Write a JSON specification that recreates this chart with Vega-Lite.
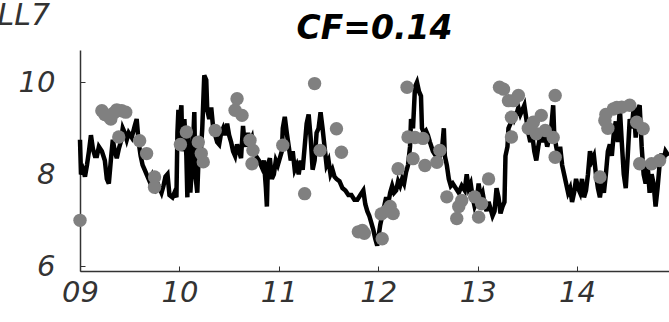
{
  "$schema": "https://vega.github.io/schema/vega-lite/v6.json",
  "autosize": "none",
  "width": 589,
  "height": 221,
  "padding": {"left": 80, "top": 50, "right": 0, "bottom": 51},
  "background": "white",
  "config": {"view": {"stroke": null}},
  "title": {"text": "CF=0.14", "font": "DejaVu Sans", "fontSize": 33, "fontWeight": "bold", "fontStyle": "italic", "color": "black", "anchor": "middle", "offset": 0, "dy": 46},
  "datasets": {
    "line": [
      {"t": 9.00, "v": 8.75}, {"t": 9.01, "v": 8.0}, {"t": 9.03, "v": 8.1}, {"t": 9.05, "v": 7.95}, {"t": 9.07, "v": 8.2}, {"t": 9.09, "v": 8.5}, {"t": 9.11, "v": 8.85}, {"t": 9.13, "v": 8.55}, {"t": 9.15, "v": 8.4}, {"t": 9.17, "v": 8.4}, {"t": 9.19, "v": 8.6}, {"t": 9.22, "v": 8.5}, {"t": 9.25, "v": 8.3}, {"t": 9.27, "v": 7.9}, {"t": 9.29, "v": 7.8}, {"t": 9.31, "v": 8.3}, {"t": 9.33, "v": 8.75}, {"t": 9.35, "v": 8.5}, {"t": 9.37, "v": 8.35}, {"t": 9.39, "v": 8.55}, {"t": 9.41, "v": 8.7}, {"t": 9.43, "v": 9.0}, {"t": 9.45, "v": 8.9}, {"t": 9.47, "v": 8.75}, {"t": 9.49, "v": 8.9}, {"t": 9.52, "v": 8.8}, {"t": 9.55, "v": 9.05}, {"t": 9.57, "v": 9.2}, {"t": 9.59, "v": 8.7}, {"t": 9.61, "v": 8.4}, {"t": 9.63, "v": 8.2}, {"t": 9.65, "v": 8.1}, {"t": 9.67, "v": 8.0}, {"t": 9.70, "v": 7.85}, {"t": 9.72, "v": 7.95}, {"t": 9.74, "v": 7.7}, {"t": 9.76, "v": 7.65}, {"t": 9.79, "v": 7.75}, {"t": 9.82, "v": 7.6}, {"t": 9.84, "v": 7.75}, {"t": 9.86, "v": 7.95}, {"t": 9.88, "v": 8.0}, {"t": 9.90, "v": 7.55}, {"t": 9.93, "v": 7.5}, {"t": 9.95, "v": 7.6}, {"t": 9.97, "v": 7.5}, {"t": 9.98, "v": 8.9}, {"t": 9.99, "v": 9.4},
      {"t": 10.00, "v": 8.6}, {"t": 10.01, "v": 9.3}, {"t": 10.02, "v": 9.5}, {"t": 10.03, "v": 8.5}, {"t": 10.05, "v": 9.2}, {"t": 10.07, "v": 8.4}, {"t": 10.08, "v": 7.5}, {"t": 10.09, "v": 8.9}, {"t": 10.11, "v": 7.6}, {"t": 10.13, "v": 8.3}, {"t": 10.15, "v": 9.35}, {"t": 10.16, "v": 8.0}, {"t": 10.18, "v": 7.6}, {"t": 10.20, "v": 8.8}, {"t": 10.21, "v": 8.3}, {"t": 10.23, "v": 9.0}, {"t": 10.25, "v": 10.15}, {"t": 10.27, "v": 10.05}, {"t": 10.28, "v": 9.4}, {"t": 10.30, "v": 9.2}, {"t": 10.32, "v": 9.45}, {"t": 10.34, "v": 9.0}, {"t": 10.36, "v": 8.85}, {"t": 10.38, "v": 8.7}, {"t": 10.40, "v": 8.65}, {"t": 10.42, "v": 8.9}, {"t": 10.44, "v": 9.0}, {"t": 10.46, "v": 8.85}, {"t": 10.48, "v": 9.1}, {"t": 10.50, "v": 8.85}, {"t": 10.52, "v": 8.7}, {"t": 10.54, "v": 8.5}, {"t": 10.56, "v": 8.4}, {"t": 10.58, "v": 8.65}, {"t": 10.60, "v": 8.5}, {"t": 10.62, "v": 8.35}, {"t": 10.64, "v": 9.05}, {"t": 10.65, "v": 8.8}, {"t": 10.67, "v": 8.6}, {"t": 10.69, "v": 8.9}, {"t": 10.71, "v": 8.7}, {"t": 10.73, "v": 8.8}, {"t": 10.75, "v": 8.5}, {"t": 10.77, "v": 8.4}, {"t": 10.80, "v": 8.3}, {"t": 10.83, "v": 8.15}, {"t": 10.85, "v": 8.3}, {"t": 10.87, "v": 7.7}, {"t": 10.88, "v": 7.3}, {"t": 10.89, "v": 8.2}, {"t": 10.91, "v": 8.35}, {"t": 10.93, "v": 7.9}, {"t": 10.95, "v": 8.0}, {"t": 10.97, "v": 8.3}, {"t": 10.99, "v": 8.2},
      {"t": 11.01, "v": 8.35}, {"t": 11.03, "v": 8.5}, {"t": 11.04, "v": 9.0}, {"t": 11.06, "v": 9.25}, {"t": 11.08, "v": 8.9}, {"t": 11.10, "v": 8.6}, {"t": 11.12, "v": 8.3}, {"t": 11.14, "v": 8.5}, {"t": 11.16, "v": 8.1}, {"t": 11.18, "v": 8.2}, {"t": 11.20, "v": 8.0}, {"t": 11.22, "v": 8.3}, {"t": 11.24, "v": 8.1}, {"t": 11.26, "v": 8.6}, {"t": 11.28, "v": 9.1}, {"t": 11.30, "v": 9.3}, {"t": 11.32, "v": 8.8}, {"t": 11.34, "v": 8.1}, {"t": 11.36, "v": 8.3}, {"t": 11.38, "v": 8.9}, {"t": 11.40, "v": 9.0}, {"t": 11.42, "v": 9.35}, {"t": 11.44, "v": 9.0}, {"t": 11.46, "v": 8.6}, {"t": 11.48, "v": 8.2}, {"t": 11.50, "v": 8.3}, {"t": 11.52, "v": 8.0}, {"t": 11.54, "v": 8.1}, {"t": 11.56, "v": 7.95}, {"t": 11.58, "v": 7.9}, {"t": 11.61, "v": 7.85}, {"t": 11.64, "v": 7.7}, {"t": 11.67, "v": 7.65}, {"t": 11.70, "v": 7.55}, {"t": 11.73, "v": 7.55}, {"t": 11.76, "v": 7.45}, {"t": 11.79, "v": 7.45}, {"t": 11.82, "v": 7.55}, {"t": 11.85, "v": 7.65}, {"t": 11.87, "v": 7.35}, {"t": 11.89, "v": 7.2}, {"t": 11.91, "v": 7.1}, {"t": 11.93, "v": 6.95}, {"t": 11.95, "v": 6.8}, {"t": 11.97, "v": 6.6}, {"t": 11.99, "v": 6.45},
      {"t": 12.00, "v": 6.6}, {"t": 12.02, "v": 6.9}, {"t": 12.04, "v": 7.1}, {"t": 12.06, "v": 7.3}, {"t": 12.08, "v": 7.5}, {"t": 12.10, "v": 7.35}, {"t": 12.12, "v": 7.6}, {"t": 12.14, "v": 7.75}, {"t": 12.16, "v": 7.6}, {"t": 12.18, "v": 7.65}, {"t": 12.20, "v": 7.85}, {"t": 12.22, "v": 7.75}, {"t": 12.24, "v": 7.9}, {"t": 12.26, "v": 7.8}, {"t": 12.28, "v": 8.05}, {"t": 12.30, "v": 8.2}, {"t": 12.32, "v": 8.6}, {"t": 12.33, "v": 9.2}, {"t": 12.35, "v": 9.0}, {"t": 12.37, "v": 9.9}, {"t": 12.39, "v": 10.0}, {"t": 12.41, "v": 9.8}, {"t": 12.43, "v": 9.7}, {"t": 12.44, "v": 9.0}, {"t": 12.46, "v": 8.9}, {"t": 12.48, "v": 8.95}, {"t": 12.50, "v": 8.85}, {"t": 12.52, "v": 8.7}, {"t": 12.55, "v": 8.5}, {"t": 12.58, "v": 8.4}, {"t": 12.61, "v": 8.35}, {"t": 12.64, "v": 8.5}, {"t": 12.66, "v": 9.0}, {"t": 12.67, "v": 8.4}, {"t": 12.69, "v": 8.2}, {"t": 12.71, "v": 7.9}, {"t": 12.73, "v": 7.75}, {"t": 12.75, "v": 7.8}, {"t": 12.78, "v": 7.7}, {"t": 12.81, "v": 7.6}, {"t": 12.84, "v": 7.75}, {"t": 12.87, "v": 7.65}, {"t": 12.89, "v": 8.0}, {"t": 12.91, "v": 7.7}, {"t": 12.93, "v": 7.8}, {"t": 12.95, "v": 7.5}, {"t": 12.97, "v": 7.3}, {"t": 12.99, "v": 7.4},
      {"t": 13.01, "v": 7.8}, {"t": 13.03, "v": 7.5}, {"t": 13.05, "v": 7.6}, {"t": 13.07, "v": 7.35}, {"t": 13.09, "v": 7.2}, {"t": 13.11, "v": 7.4}, {"t": 13.13, "v": 7.25}, {"t": 13.15, "v": 7.1}, {"t": 13.17, "v": 7.2}, {"t": 13.19, "v": 7.7}, {"t": 13.21, "v": 7.5}, {"t": 13.23, "v": 7.15}, {"t": 13.25, "v": 7.3}, {"t": 13.27, "v": 7.4}, {"t": 13.28, "v": 8.4}, {"t": 13.30, "v": 8.6}, {"t": 13.31, "v": 9.0}, {"t": 13.33, "v": 9.1}, {"t": 13.35, "v": 9.35}, {"t": 13.37, "v": 9.2}, {"t": 13.39, "v": 9.3}, {"t": 13.41, "v": 9.45}, {"t": 13.43, "v": 9.3}, {"t": 13.45, "v": 9.4}, {"t": 13.47, "v": 9.5}, {"t": 13.49, "v": 9.2}, {"t": 13.51, "v": 8.9}, {"t": 13.53, "v": 8.7}, {"t": 13.55, "v": 8.85}, {"t": 13.57, "v": 8.5}, {"t": 13.59, "v": 8.3}, {"t": 13.61, "v": 8.6}, {"t": 13.63, "v": 8.85}, {"t": 13.65, "v": 8.7}, {"t": 13.67, "v": 8.95}, {"t": 13.70, "v": 8.6}, {"t": 13.72, "v": 8.8}, {"t": 13.74, "v": 9.0}, {"t": 13.76, "v": 9.5}, {"t": 13.77, "v": 8.9}, {"t": 13.79, "v": 8.6}, {"t": 13.81, "v": 8.4}, {"t": 13.83, "v": 8.6}, {"t": 13.85, "v": 8.2}, {"t": 13.87, "v": 8.0}, {"t": 13.89, "v": 7.8}, {"t": 13.91, "v": 7.6}, {"t": 13.93, "v": 7.7}, {"t": 13.95, "v": 7.4}, {"t": 13.97, "v": 7.6}, {"t": 13.99, "v": 7.9},
      {"t": 14.01, "v": 7.7}, {"t": 14.03, "v": 7.6}, {"t": 14.05, "v": 7.9}, {"t": 14.07, "v": 7.5}, {"t": 14.09, "v": 7.65}, {"t": 14.11, "v": 8.0}, {"t": 14.13, "v": 8.5}, {"t": 14.15, "v": 8.3}, {"t": 14.17, "v": 8.4}, {"t": 14.19, "v": 8.0}, {"t": 14.21, "v": 7.7}, {"t": 14.23, "v": 7.5}, {"t": 14.25, "v": 7.8}, {"t": 14.27, "v": 7.6}, {"t": 14.29, "v": 8.0}, {"t": 14.31, "v": 8.5}, {"t": 14.33, "v": 8.65}, {"t": 14.35, "v": 8.4}, {"t": 14.37, "v": 8.9}, {"t": 14.39, "v": 9.15}, {"t": 14.41, "v": 8.7}, {"t": 14.43, "v": 9.45}, {"t": 14.45, "v": 8.7}, {"t": 14.47, "v": 8.0}, {"t": 14.49, "v": 7.7}, {"t": 14.51, "v": 8.4}, {"t": 14.53, "v": 9.2}, {"t": 14.55, "v": 9.0}, {"t": 14.57, "v": 9.45}, {"t": 14.59, "v": 8.8}, {"t": 14.61, "v": 9.4}, {"t": 14.63, "v": 9.5}, {"t": 14.65, "v": 8.6}, {"t": 14.67, "v": 8.0}, {"t": 14.69, "v": 7.8}, {"t": 14.71, "v": 8.2}, {"t": 14.73, "v": 7.6}, {"t": 14.75, "v": 8.0}, {"t": 14.77, "v": 7.8}, {"t": 14.79, "v": 7.3}, {"t": 14.81, "v": 7.7}, {"t": 14.83, "v": 8.2}, {"t": 14.85, "v": 8.45}, {"t": 14.87, "v": 8.3}, {"t": 14.89, "v": 8.5}, {"t": 14.92, "v": 8.4}
    ],
    "pts": [
      {"t": 9.00, "v": 7.0}, {"t": 9.22, "v": 9.38}, {"t": 9.25, "v": 9.30}, {"t": 9.28, "v": 9.27}, {"t": 9.31, "v": 9.20}, {"t": 9.34, "v": 9.33}, {"t": 9.37, "v": 9.40}, {"t": 9.42, "v": 9.38}, {"t": 9.46, "v": 9.35}, {"t": 9.39, "v": 8.81}, {"t": 9.60, "v": 8.73}, {"t": 9.67, "v": 8.45}, {"t": 9.75, "v": 7.94}, {"t": 9.75, "v": 7.72},
      {"t": 10.01, "v": 8.65}, {"t": 10.07, "v": 8.92}, {"t": 10.19, "v": 8.70}, {"t": 10.22, "v": 8.45}, {"t": 10.24, "v": 8.27}, {"t": 10.36, "v": 8.95}, {"t": 10.58, "v": 9.64}, {"t": 10.56, "v": 9.39}, {"t": 10.63, "v": 9.28}, {"t": 10.71, "v": 8.74}, {"t": 10.74, "v": 8.52}, {"t": 10.73, "v": 8.23},
      {"t": 11.04, "v": 8.63}, {"t": 11.36, "v": 9.97}, {"t": 11.26, "v": 7.58}, {"t": 11.415, "v": 8.52}, {"t": 11.58, "v": 8.99}, {"t": 11.63, "v": 8.48}, {"t": 11.80, "v": 6.75}, {"t": 11.84, "v": 6.78}, {"t": 11.86, "v": 6.72},
      {"t": 12.04, "v": 6.6}, {"t": 12.03, "v": 7.14}, {"t": 12.08, "v": 7.20}, {"t": 12.12, "v": 7.30}, {"t": 12.15, "v": 7.15}, {"t": 12.20, "v": 8.12}, {"t": 12.29, "v": 9.89}, {"t": 12.30, "v": 8.81}, {"t": 12.37, "v": 8.80}, {"t": 12.45, "v": 8.78}, {"t": 12.35, "v": 8.34}, {"t": 12.47, "v": 8.19}, {"t": 12.59, "v": 8.26}, {"t": 12.62, "v": 8.52}, {"t": 12.69, "v": 7.51}, {"t": 12.79, "v": 7.04}, {"t": 12.84, "v": 7.43}, {"t": 12.81, "v": 7.3}, {"t": 12.97, "v": 7.51},
      {"t": 13.01, "v": 7.07}, {"t": 13.04, "v": 7.36}, {"t": 13.11, "v": 7.9}, {"t": 13.22, "v": 9.89}, {"t": 13.26, "v": 9.85}, {"t": 13.31, "v": 9.6}, {"t": 13.41, "v": 9.71}, {"t": 13.36, "v": 9.6}, {"t": 13.34, "v": 9.24}, {"t": 13.34, "v": 8.81}, {"t": 13.56, "v": 9.13}, {"t": 13.64, "v": 9.28}, {"t": 13.51, "v": 9.0}, {"t": 13.59, "v": 8.88}, {"t": 13.68, "v": 8.95}, {"t": 13.76, "v": 8.8}, {"t": 13.78, "v": 9.71}, {"t": 13.78, "v": 8.37},
      {"t": 14.23, "v": 7.94}, {"t": 14.28, "v": 9.17}, {"t": 14.31, "v": 9.0}, {"t": 14.365, "v": 9.42}, {"t": 14.45, "v": 9.46}, {"t": 14.53, "v": 9.5}, {"t": 14.60, "v": 9.13}, {"t": 14.665, "v": 8.99}, {"t": 14.63, "v": 8.23}, {"t": 14.75, "v": 8.23}, {"t": 14.83, "v": 8.3}, {"t": 14.29, "v": 9.3}, {"t": 14.40, "v": 9.45}
    ]
  },
  "encoding": {
    "x": {"field": "t", "type": "quantitative", "scale": {"domain": [9, 14.925], "nice": false, "zero": false},
      "axis": {"values": [9, 10, 11, 12, 13, 14], "format": "02d", "title": null, "grid": false, "domainColor": "#333", "domainWidth": 1.5, "tickColor": "#333", "tickSize": -5, "tickWidth": 1, "labelFont": "DejaVu Sans", "labelFontStyle": "italic", "labelFontSize": 29, "labelColor": "#333", "labelPadding": 12, "labelFlush": false}},
    "y": {"field": "v", "type": "quantitative", "scale": {"domain": [5.9, 10.7], "nice": false, "zero": false},
      "axis": {"values": [6, 8, 10], "title": "LL7", "titleAngle": 0, "titleAlign": "left", "titleBaseline": "alphabetic", "titleX": -83, "titleY": -26, "titleFont": "DejaVu Sans", "titleFontStyle": "italic", "titleFontWeight": "normal", "titleFontSize": 30, "titleColor": "#333", "grid": false, "domainColor": "#333", "domainWidth": 1.5, "tickColor": "#333", "tickSize": -5, "tickWidth": 1, "labelFont": "DejaVu Sans", "labelFontStyle": "italic", "labelFontSize": 29, "labelColor": "#333", "labelPadding": 30, "labelBaseline": "middle"}}
  },
  "layer": [
    {"data": {"name": "line"}, "mark": {"type": "line", "color": "black", "strokeWidth": 4.5, "interpolate": "linear"}},
    {"data": {"name": "pts"}, "mark": {"type": "circle", "color": "#808080", "opacity": 1, "size": 180}}
  ]
}
